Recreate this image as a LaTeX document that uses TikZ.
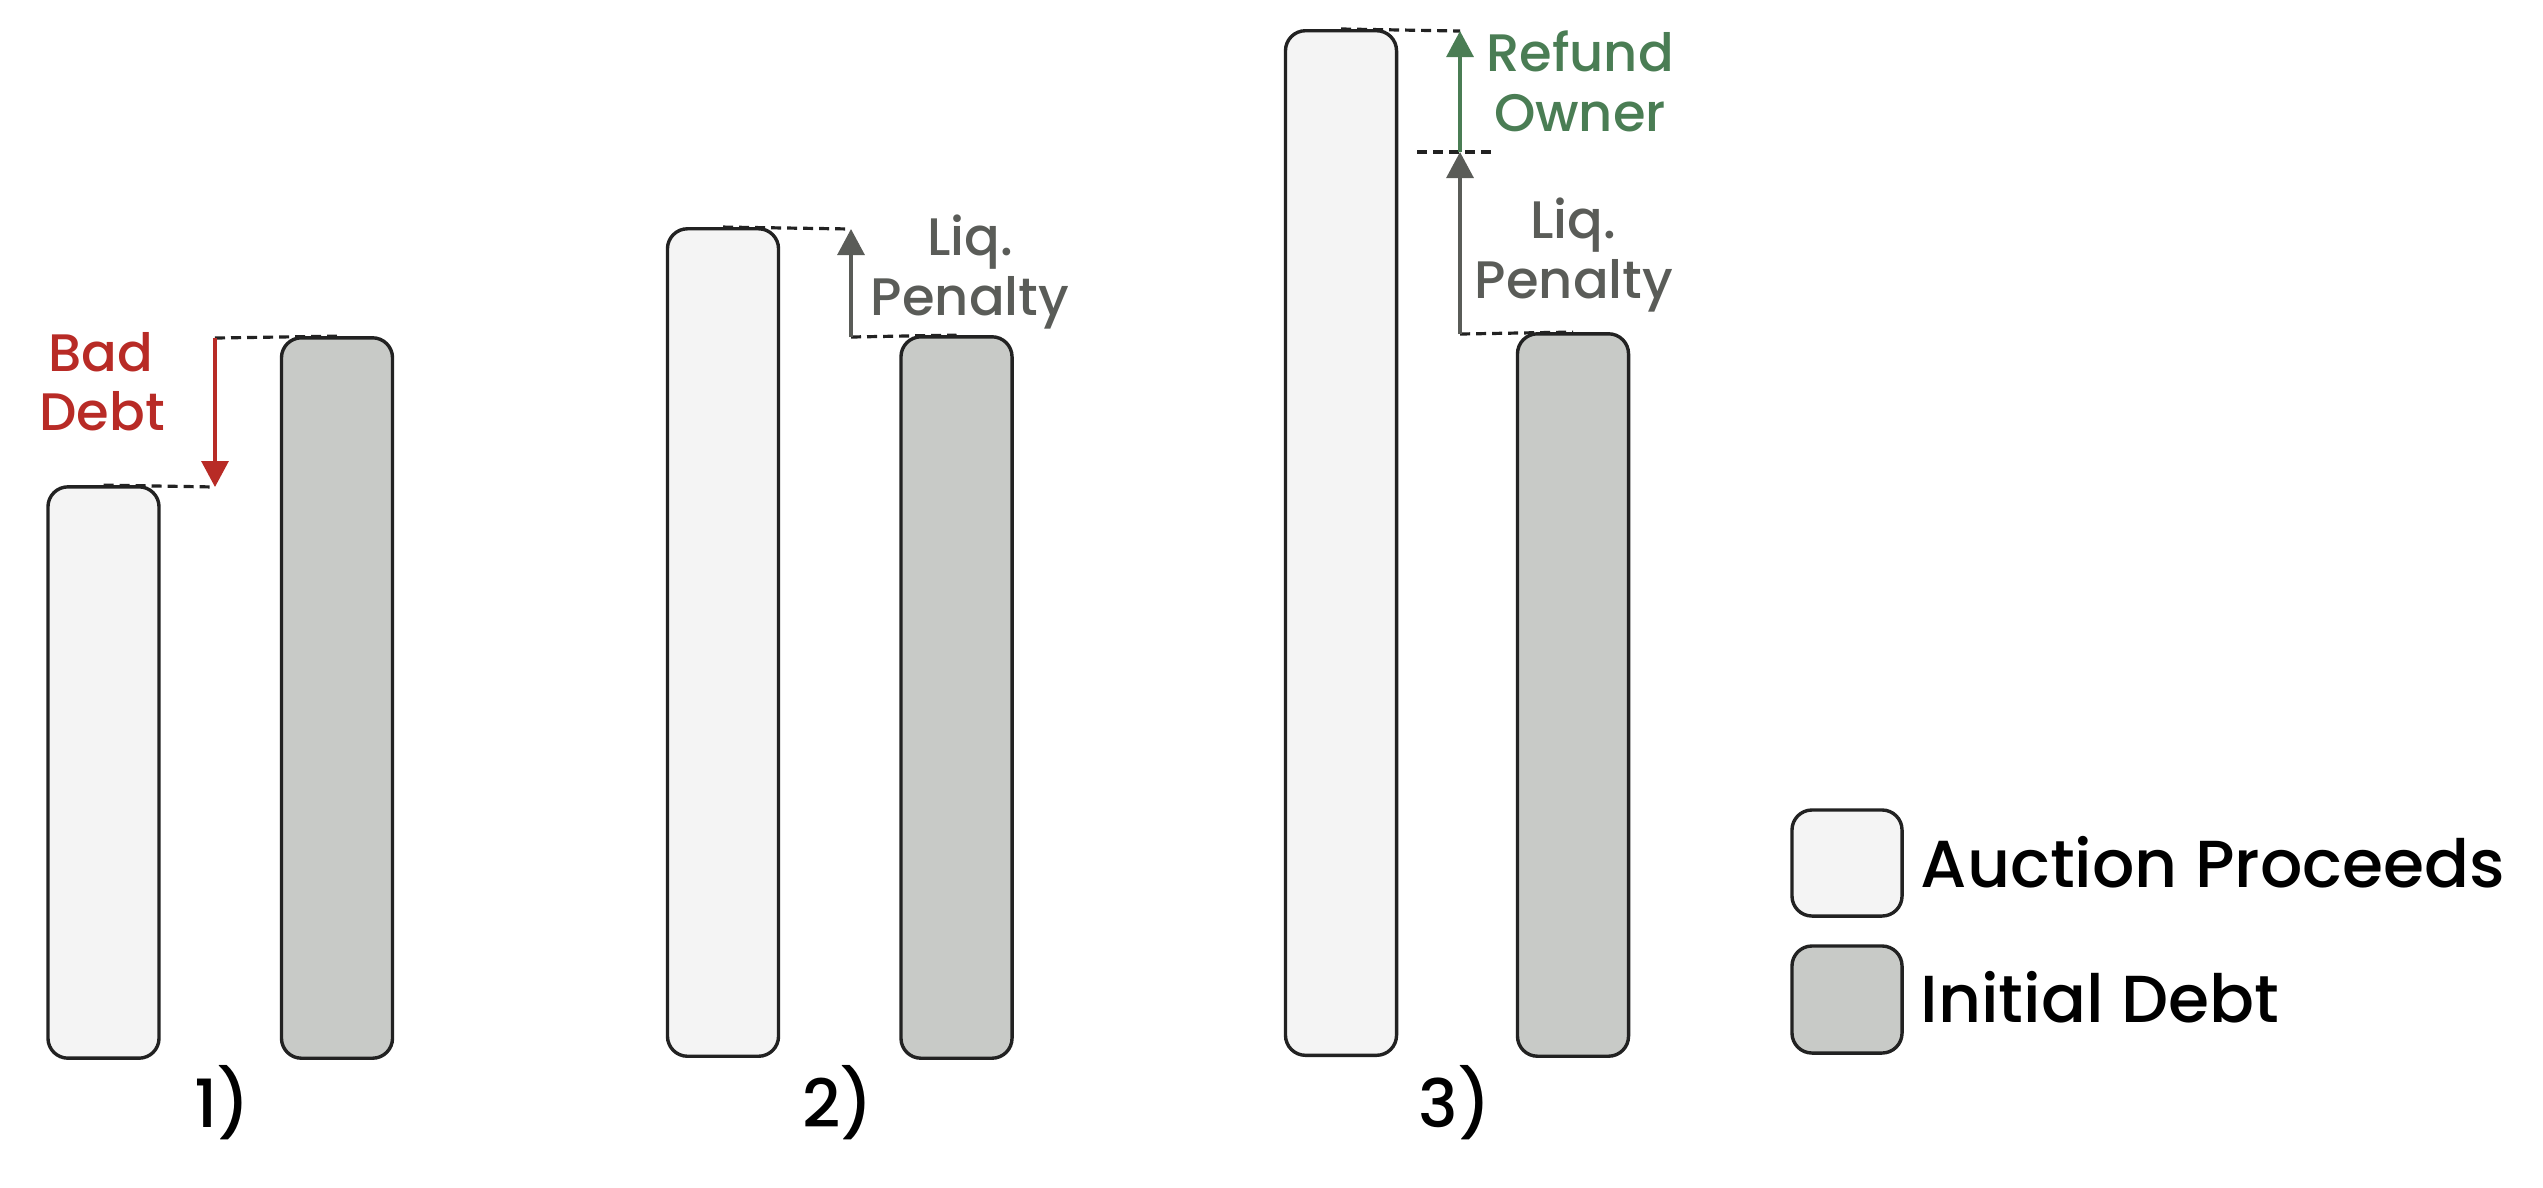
\documentclass[tikz,border=0pt]{standalone}
\usepackage{fontspec}
\setmainfont{Poppins}[UprightFont=* Medium]
\usetikzlibrary{arrows.meta}
\definecolor{lightfill}{HTML}{F4F4F4}
\definecolor{darkfill}{HTML}{C8CAC7}
\definecolor{edgec}{HTML}{222222}
\definecolor{badred}{HTML}{B82B26}
\definecolor{refgreen}{HTML}{4A7D54}
\definecolor{liqgray}{HTML}{5A5C58}
\begin{document}
\begin{tikzpicture}[x=0.01cm,y=-0.01cm,
  bar/.style={draw=edgec, line width=0.034cm, rounded corners=0.2cm, minimum width=1.11cm, inner sep=0pt},
  lightbar/.style={bar, fill=lightfill},
  darkbar/.style={bar, fill=darkfill},
  dashline/.style={draw=edgec, line width=0.032cm, dash pattern=on 0.1cm off 0.06cm},
  arr/.style={line width=0.032cm, -{Triangle[width=0.27cm,length=0.26cm]}},
  lbl/.style={anchor=base, inner sep=0pt, font=\fontsize{15pt}{17pt}\selectfont},
  big/.style={inner sep=0pt, font=\fontsize{18.9pt}{22pt}\selectfont, text=black}]
\useasboundingbox (0,0) rectangle (2543,1187);

% coordinates for arrows
\coordinate (a1t) at (215,338);
\coordinate (a1b) at (215,487);
\coordinate (a2b) at (851,337);
\coordinate (a2t) at (851,229);
\coordinate (a3b) at (1460,334);
\coordinate (a3m) at (1460,152);
\coordinate (a3t) at (1460,31);
\coordinate (m3l) at (1417,152);
\coordinate (m3r) at (1497,152);

% bars
\node[lightbar, minimum height=5.71cm] (l1) at (103.5,772.5) {};
\node[darkbar, minimum height=7.20cm] (d1) at (337,698) {};
\node[lightbar, minimum height=8.27cm] (l2) at (723,642.5) {};
\node[darkbar, minimum height=7.21cm] (d2) at (956.5,697.5) {};
\node[lightbar, minimum height=10.24cm] (l3) at (1341,543) {};
\node[darkbar, minimum height=7.22cm] (d3) at (1573,695) {};

% dashed guides
\draw[dashline] (a1t) -- (d1.north);
\draw[dashline] (l1.north) -- (a1b);
\draw[dashline] (l2.north) -- (a2t);
\draw[dashline] (a2b) -- (d2.north);
\draw[dashline] (l3.north) -- (a3t);
\draw[dashline] (m3l) -- (m3r);
\draw[dashline] (a3b) -- (d3.north);

% arrows
\draw[arr, draw=badred, fill=badred] (a1t) -- (a1b);
\draw[arr, draw=liqgray, fill=liqgray] (a2b) -- (a2t);
\draw[arr, draw=liqgray, fill=liqgray] (a3b) -- (a3m);
\draw[arr, draw=refgreen, fill=refgreen] (a3m) -- (a3t);

% labels
\node[lbl, text=badred] (bad) at (101,371) {Bad};
\node[lbl, text=badred] (debt) at (102,430) {Debt};
\node[lbl, text=liqgray] (liq2) at (970,255) {Liq.};
\node[lbl, text=liqgray] (pen2) at (970,315) {Penalty};
\node[lbl, text=liqgray] (liq3) at (1573,238) {Liq.};
\node[lbl, text=liqgray] (pen3) at (1574,298) {Penalty};
\node[lbl, text=refgreen] (ref3) at (1580,71) {Refund};
\node[lbl, text=refgreen] (own3) at (1580,131) {Owner};

% case numbers
\node[big, anchor=base] (n1) at (222,1127) {1)};
\node[big, anchor=base] (n2) at (838,1127) {2)};
\node[big, anchor=base] (n3) at (1455,1127) {3)};

% legend
\node[lightbar, minimum height=1.06cm, minimum width=1.10cm] (leg1) at (1847,863) {};
\node[darkbar, minimum height=1.07cm, minimum width=1.10cm] (leg2) at (1847,999.5) {};
\node[big, anchor=base west] (legt1) at (1920,887) {Auction Proceeds};
\node[big, anchor=base west] (legt2) at (1920,1022) {Initial Debt};
\end{tikzpicture}
\end{document}
